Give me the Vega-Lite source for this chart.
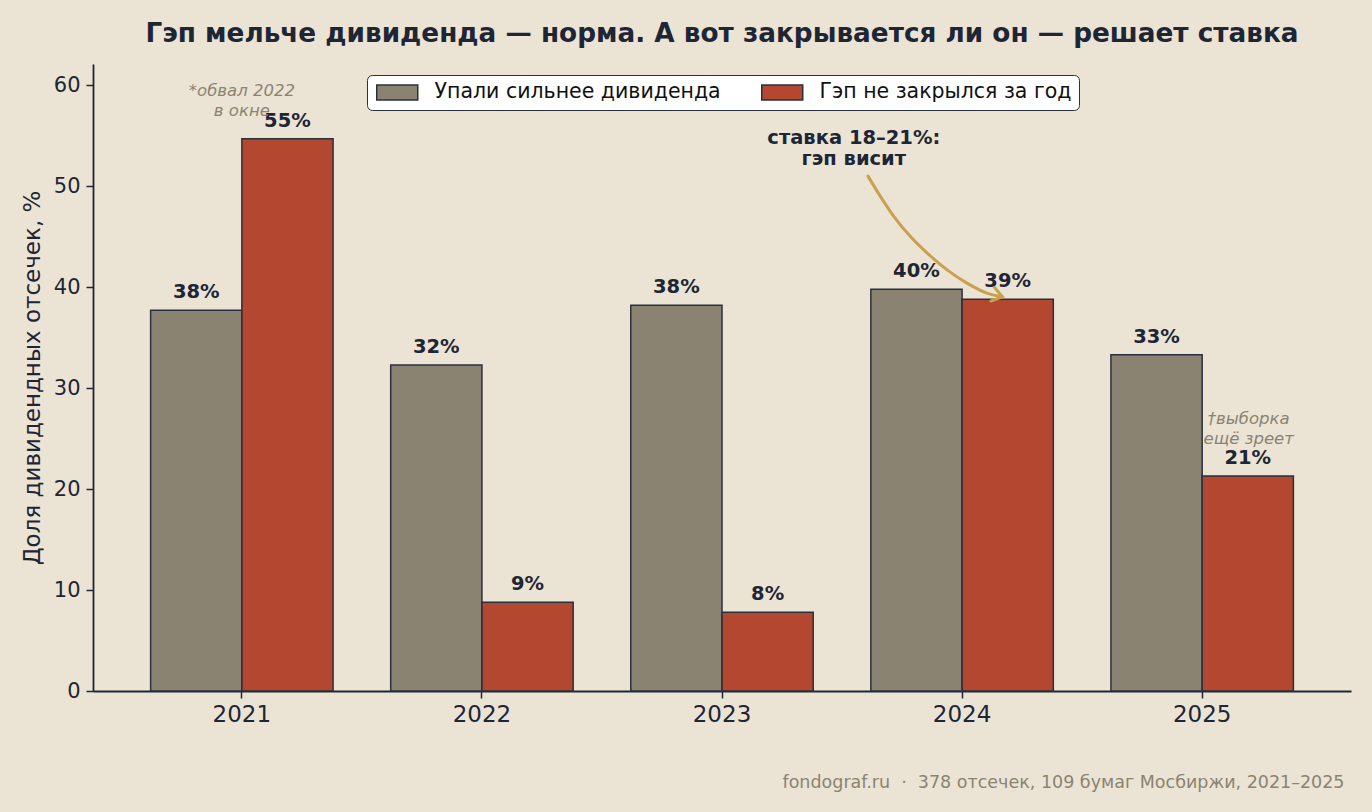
{
  "$schema": "https://vega.github.io/schema/vega-lite/v6.json",
  "autosize": "none",
  "width": 1258,
  "height": 627,
  "padding": {"left": 93, "top": 64, "right": 21, "bottom": 121},
  "background": "#EBE4D4",
  "config": {
    "font": "DejaVu Sans",
    "view": {"stroke": null},
    "axis": {
      "domainColor": "#1E2636",
      "domainWidth": 1.8,
      "tickColor": "#1E2636",
      "tickWidth": 1.5,
      "tickSize": 7,
      "labelColor": "#1E2636",
      "labelFont": "DejaVu Sans",
      "titleFont": "DejaVu Sans",
      "titleColor": "#1E2636",
      "grid": false
    }
  },
  "title": {
    "text": "Гэп мельче дивиденда — норма. А вот закрывается ли он — решает ставка",
    "anchor": "middle",
    "frame": "group",
    "baseline": "alphabetic",
    "offset": 22,
    "dy": 26,
    "fontSize": 26.3,
    "fontWeight": "bold",
    "color": "#1E2636",
    "font": "DejaVu Sans"
  },
  "datasets": {
    "shares": [
      {"year": "2021", "series": "Упали сильнее дивиденда", "share": 37.7},
      {"year": "2021", "series": "Гэп не закрылся за год", "share": 54.7},
      {"year": "2022", "series": "Упали сильнее дивиденда", "share": 32.3},
      {"year": "2022", "series": "Гэп не закрылся за год", "share": 8.8},
      {"year": "2023", "series": "Упали сильнее дивиденда", "share": 38.2},
      {"year": "2023", "series": "Гэп не закрылся за год", "share": 7.8},
      {"year": "2024", "series": "Упали сильнее дивиденда", "share": 39.8},
      {"year": "2024", "series": "Гэп не закрылся за год", "share": 38.8},
      {"year": "2025", "series": "Упали сильнее дивиденда", "share": 33.3},
      {"year": "2025", "series": "Гэп не закрылся за год", "share": 21.3}
    ],
    "notes": [
      {"pos": 0, "share": 59.4, "note": "*обвал 2022\nв окне", "kind": "aside"},
      {"pos": 4.194, "share": 26.9, "note": "†выборка\nещё зреет", "kind": "aside"},
      {"pos": 2.549, "share": 54.8, "note": "ставка 18–21%:\nгэп висит", "kind": "callout"}
    ],
    "arrow": [
      {"pos": 2.608, "share": 51.0},
      {"pos": 2.661, "share": 48.94},
      {"pos": 2.717, "share": 46.96},
      {"pos": 2.786, "share": 44.98},
      {"pos": 2.856, "share": 43.34},
      {"pos": 2.939, "share": 41.68},
      {"pos": 3.022, "share": 40.37},
      {"pos": 3.106, "share": 39.38},
      {"pos": 3.168, "share": 39.04}
    ],
    "arrowTip": [
      {"pos": 3.168, "share": 39.04}
    ]
  },
  "resolve": {"scale": {"x": "independent"}},
  "layer": [
    {
      "data": {"name": "shares"},
      "transform": [
        {"calculate": "format(datum.share, '.0f') + '%'", "as": "label"}
      ],
      "encoding": {
        "x": {
          "field": "year",
          "type": "nominal",
          "scale": {"paddingInner": 0.24, "paddingOuter": 0.24},
          "axis": {
            "labelAngle": 0,
            "labelFontSize": 23,
            "labelPadding": 5,
            "title": "fondograf.ru\u00a0\u00a0·\u00a0\u00a0378 отсечек, 109 бумаг Мосбиржи, 2021–2025",
            "titleFontSize": 17.5,
            "titleFontWeight": "normal",
            "titleColor": "#8A8372",
            "titleAnchor": "end",
            "titleAlign": "right",
            "titleBaseline": "alphabetic",
            "titleX": 1251,
            "titleY": 96
          }
        },
        "xOffset": {
          "field": "series",
          "type": "nominal",
          "scale": {
            "domain": ["Упали сильнее дивиденда", "Гэп не закрылся за год"],
            "paddingInner": 0,
            "paddingOuter": 0
          }
        },
        "y": {
          "field": "share",
          "type": "quantitative",
          "scale": {"domain": [0, 62.1], "nice": false},
          "axis": {
            "values": [0, 10, 20, 30, 40, 50, 60],
            "labelFontSize": 21,
            "labelPadding": 6,
            "title": "Доля дивидендных отсечек, %",
            "titleFontSize": 23,
            "titleFontWeight": "normal",
            "titlePadding": 9
          }
        }
      },
      "layer": [
        {
          "mark": {"type": "bar", "stroke": "#283040", "strokeWidth": 1.5},
          "encoding": {
            "color": {
              "field": "series",
              "type": "nominal",
              "scale": {
                "domain": ["Упали сильнее дивиденда", "Гэп не закрылся за год"],
                "range": ["#8A8372", "#B3472F"]
              },
              "legend": {
                "title": null,
                "orient": "none",
                "legendX": 274,
                "legendY": 11,
                "direction": "horizontal",
                "fillColor": "#FFFFFF",
                "strokeColor": "#283040",
                "cornerRadius": 5,
                "padding": 7,
                "symbolType": "M-1,-1H4.467V1H-1Z",
                "symbolSize": 225,
                "symbolStrokeColor": "#283040",
                "symbolStrokeWidth": 1.5,
                "symbolOpacity": 1,
                "labelFontSize": 20.5,
                "labelLimit": 500,
                "labelColor": "#111111",
                "labelOffset": 40,
                "columnPadding": 37
              }
            }
          }
        },
        {
          "mark": {
            "type": "text",
            "baseline": "alphabetic",
            "dy": -12,
            "fontSize": 19.5,
            "fontWeight": "bold",
            "color": "#1E2636"
          },
          "encoding": {"text": {"field": "label"}}
        }
      ]
    },
    {
      "data": {"name": "notes"},
      "transform": [{"filter": "datum.kind === 'aside'"}],
      "mark": {
        "type": "text",
        "baseline": "middle",
        "align": "center",
        "lineBreak": "\n",
        "lineHeight": 20,
        "fontSize": 16.5,
        "fontStyle": "italic",
        "color": "#8A8372"
      },
      "encoding": {
        "x": {"field": "pos", "type": "quantitative", "scale": {"domain": [-0.62, 4.62], "nice": false, "zero": false}, "axis": null},
        "y": {"field": "share", "type": "quantitative"},
        "text": {"field": "note"}
      }
    },
    {
      "data": {"name": "notes"},
      "transform": [{"filter": "datum.kind === 'callout'"}],
      "mark": {
        "type": "text",
        "baseline": "middle",
        "align": "center",
        "lineBreak": "\n",
        "lineHeight": 21,
        "fontSize": 19.5,
        "fontWeight": "bold",
        "color": "#1E2636"
      },
      "encoding": {
        "x": {"field": "pos", "type": "quantitative", "scale": {"domain": [-0.62, 4.62], "nice": false, "zero": false}, "axis": null},
        "y": {"field": "share", "type": "quantitative"},
        "text": {"field": "note"}
      }
    },
    {
      "data": {"name": "arrow"},
      "mark": {"type": "line", "interpolate": "monotone", "color": "#C9A04E", "strokeWidth": 3, "strokeCap": "round"},
      "encoding": {
        "x": {"field": "pos", "type": "quantitative", "scale": {"domain": [-0.62, 4.62], "nice": false, "zero": false}, "axis": null},
        "y": {"field": "share", "type": "quantitative"}
      }
    },
    {
      "data": {"name": "arrowTip"},
      "mark": {
        "type": "point",
        "shape": "M-1,-0.7L0,0L-1,0.7",
        "size": 400,
        "angle": 15,
        "filled": false,
        "stroke": "#C9A04E",
        "strokeWidth": 3,
        "strokeCap": "round",
        "strokeJoin": "miter",
        "opacity": 1
      },
      "encoding": {
        "x": {"field": "pos", "type": "quantitative", "scale": {"domain": [-0.62, 4.62], "nice": false, "zero": false}, "axis": null},
        "y": {"field": "share", "type": "quantitative"}
      }
    }
  ]
}
